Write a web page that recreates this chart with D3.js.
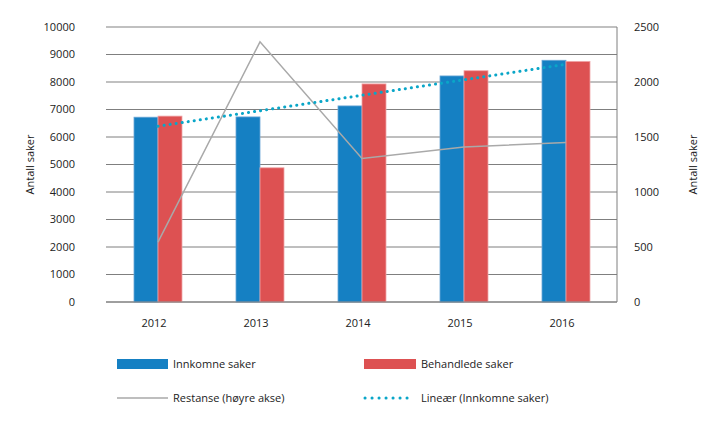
<!DOCTYPE html>
<html>
<head>
<meta charset="utf-8">
<script src="https://cdn.jsdelivr.net/npm/d3@7"></script>
<style>
  body { margin: 0; background: #fff; }
  text { font-family: "Open Sans", "DejaVu Sans", sans-serif; fill: #222; }
</style>
</head>
<body>
<div id="wrapper"></div>
<script>
const years = ["2012", "2013", "2014", "2015", "2016"];
const innkomne = [6720, 6730, 7130, 8220, 8790];
const behandlede = [6760, 4880, 7930, 8410, 8750];
const restanse = [545, 2365, 1305, 1410, 1450];
const leftTicks = [0, 1000, 2000, 3000, 4000, 5000, 6000, 7000, 8000, 9000, 10000];
const rightTicks = [0, 500, 1000, 1500, 2000, 2500];

const width = 719, height = 425;
const margin = {top: 27, right: 102, bottom: 123, left: 107};
const innerW = width - margin.left - margin.right;
const innerH = height - margin.top - margin.bottom;

const svg = d3.select("#wrapper").append("svg")
  .attr("width", width)
  .attr("height", height);

const g = svg.append("g")
  .attr("transform", `translate(${margin.left},${margin.top})`);

const x = d3.scaleBand().domain(years).range([0, innerW]);
const yL = d3.scaleLinear().domain([0, 10000]).range([innerH, 0]);
const yR = d3.scaleLinear().domain([0, 2500]).range([innerH, 0]);
const barW = 24;

// gridlines
g.selectAll(".grid")
  .data(leftTicks)
  .join("line")
  .attr("x1", -1)
  .attr("x2", innerW)
  .attr("y1", d => yL(d))
  .attr("y2", d => yL(d))
  .attr("stroke", d => (d === 10000 || d === 8000) ? "#c0c0c0" : "#7f7f7f")
  .attr("stroke-width", d => (d === 10000 || d === 8000) ? 2 : 1);

// right axis line
g.append("line")
  .attr("x1", innerW).attr("x2", innerW)
  .attr("y1", yL(10000)).attr("y2", innerH)
  .attr("stroke", "#7f7f7f");

// bars
const groups = g.selectAll(".yr")
  .data(years)
  .join("g")
  .attr("transform", d => `translate(${x(d) + x.bandwidth() / 2},0)`);

groups.append("rect")
  .attr("x", -barW)
  .attr("width", barW)
  .attr("y", (d, i) => yL(innkomne[i]))
  .attr("height", (d, i) => innerH - yL(innkomne[i]))
  .attr("fill", "#1580c3")
  .attr("stroke", "#6aa6d6")
  .attr("stroke-width", 0.8);

groups.append("rect")
  .attr("x", 0)
  .attr("width", barW)
  .attr("y", (d, i) => yL(behandlede[i]))
  .attr("height", (d, i) => innerH - yL(behandlede[i]))
  .attr("fill", "#dd5152")
  .attr("stroke", "#f0a6a8")
  .attr("stroke-width", 0.8);

// bottom baseline
g.append("line")
  .attr("x1", -1).attr("x2", innerW)
  .attr("y1", innerH).attr("y2", innerH)
  .attr("stroke", "#7f7f7f");

const cx = d => x(d) + x.bandwidth() / 2;

// restanse line (right axis)
g.append("path")
  .datum(years)
  .attr("fill", "none")
  .attr("stroke", "#a9a9a9")
  .attr("stroke-width", 1.5)
  .attr("d", d3.line().x(d => cx(d)).y((d, i) => yR(restanse[i])));

// linear trend of innkomne saker
const idx = d3.range(years.length);
const mx = d3.mean(idx), my = d3.mean(innkomne);
const slope = d3.sum(idx, i => (i - mx) * (innkomne[i] - my)) / d3.sum(idx, i => (i - mx) ** 2);
const icpt = my - slope * mx;
g.append("line")
  .attr("x1", cx(years[0]))
  .attr("x2", cx(years[years.length - 1]))
  .attr("y1", yL(icpt))
  .attr("y2", yL(icpt + slope * (years.length - 1)))
  .attr("stroke", "#0aa6c8")
  .attr("stroke-width", 3)
  .attr("stroke-linecap", "round")
  .attr("stroke-dasharray", "0.1 6");

// left tick labels
g.selectAll(".lt")
  .data(leftTicks)
  .join("text")
  .attr("x", -32)
  .attr("y", d => yL(d))
  .attr("dy", "0.35em")
  .attr("text-anchor", "end")
  .attr("font-size", 11)
  .text(d => d);

// right tick labels
g.selectAll(".rt")
  .data(rightTicks)
  .join("text")
  .attr("x", innerW + 17)
  .attr("y", d => yR(d))
  .attr("dy", "0.35em")
  .attr("font-size", 11)
  .text(d => d);

// x labels
g.selectAll(".xl")
  .data(years)
  .join("text")
  .attr("x", d => cx(d) - 4)
  .attr("y", innerH + 25)
  .attr("text-anchor", "middle")
  .attr("font-size", 11)
  .text(d => d);

// axis titles
svg.append("text")
  .attr("transform", `translate(34,${margin.top + innerH / 2}) rotate(-90)`)
  .attr("text-anchor", "middle")
  .attr("font-size", 11)
  .text("Antall saker");

svg.append("text")
  .attr("transform", `translate(697,${margin.top + innerH / 2}) rotate(-90)`)
  .attr("text-anchor", "middle")
  .attr("font-size", 11)
  .text("Antall saker");

// legend
const legend = svg.append("g");
const l1 = legend.append("g").attr("transform", "translate(117,364)");
l1.append("rect").attr("x", 0).attr("y", -5).attr("width", 51).attr("height", 10).attr("fill", "#1580c3");
l1.append("text").attr("x", 56).attr("dy", "0.35em").attr("font-size", 11).text("Innkomne saker");

const l2 = legend.append("g").attr("transform", "translate(364,364)");
l2.append("rect").attr("x", 0).attr("y", -5).attr("width", 52).attr("height", 10).attr("fill", "#dd5152");
l2.append("text").attr("x", 57).attr("dy", "0.35em").attr("font-size", 11).text("Behandlede saker");

const l3 = legend.append("g").attr("transform", "translate(117,398)");
l3.append("line").attr("x1", 0).attr("x2", 51).attr("stroke", "#a9a9a9").attr("stroke-width", 1.5);
l3.append("text").attr("x", 56).attr("dy", "0.35em").attr("font-size", 11).text("Restanse (høyre akse)");

const l4 = legend.append("g").attr("transform", "translate(364,398)");
l4.append("line").attr("x1", 1).attr("x2", 50).attr("stroke", "#0aa6c8").attr("stroke-width", 3)
  .attr("stroke-linecap", "round").attr("stroke-dasharray", "0.1 6.9");
l4.append("text").attr("x", 57).attr("dy", "0.35em").attr("font-size", 11).text("Lineær (Innkomne saker)");
</script>
</body>
</html>
